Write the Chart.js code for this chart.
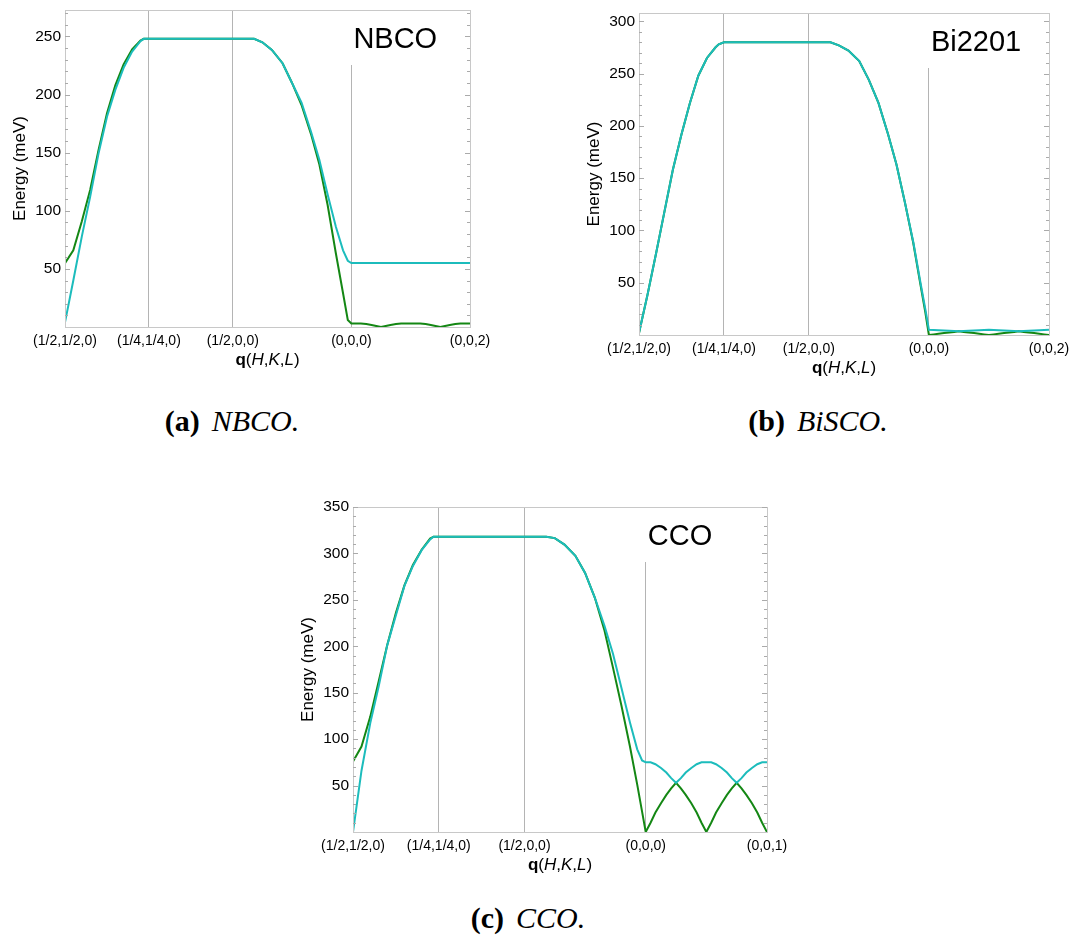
<!DOCTYPE html>
<html>
<head>
<meta charset="utf-8">
<script src="https://cdn.jsdelivr.net/npm/chart.js@4.4.1/dist/chart.umd.min.js"></script>
<style>
  body { margin: 0; background: #fff; }
  #page { position: relative; width: 1075px; height: 944px; overflow: hidden; }
  .panel { position: absolute; }
  .cap { position: absolute; width: 300px; text-align: center; font-family: "Liberation Serif", "Times New Roman", serif; font-size: 30px; line-height: 1; color: #000; white-space: nowrap; }
  .cap b { font-weight: bold; margin-right: 12px; }
</style>
</head>
<body>
<div id="page">
  <canvas id="nbco" class="panel" width="500" height="372" style="left:0px;top:0px"></canvas>
  <canvas id="bi2201" class="panel" width="499" height="380" style="left:574px;top:0px"></canvas>
  <canvas id="cco" class="panel" width="509" height="380" style="left:288px;top:497px"></canvas>
  <div class="cap" style="left:82px;top:406px"><b>(a)</b><i>NBCO.</i></div>
  <div class="cap" style="left:668px;top:406px"><b>(b)</b><i>BiSCO.</i></div>
  <div class="cap" style="left:378px;top:903px"><b>(c)</b><i>CCO.</i></div>
</div>
<script>
// path through the zone: (1/2,1/2,0) -> (1/4,1/4,0) -> (1/2,0,0) -> (0,0,0) -> (0,0,L)
const qTicks = [0, 0.3536, 0.7071, 1.2071, 1.7071];
const qLabelsL2 = ['(1/2,1/2,0)', '(1/4,1/4,0)', '(1/2,0,0)', '(0,0,0)', '(0,0,2)'];
const qLabelsL1 = ['(1/2,1/2,0)', '(1/4,1/4,0)', '(1/2,0,0)', '(0,0,0)', '(0,0,1)'];

const qPath = [
  0, 0.035, 0.071, 0.106, 0.141, 0.177, 0.212, 0.247, 0.283, 0.318, 0.332, 0.354,
  0.530,
  0.707, 0.797, 0.832, 0.872, 0.917, 0.957, 0.997, 1.037, 1.072, 1.107, 1.142, 1.172, 1.192, 1.207,
  1.227, 1.247, 1.270, 1.292, 1.312, 1.332, 1.352, 1.372, 1.395, 1.417, 1.437, 1.457,
  1.477, 1.497, 1.520, 1.542, 1.562, 1.582, 1.602, 1.622, 1.645, 1.667, 1.687, 1.707
];

// energies in meV, upper (cyan) and lower (green) branch
const nbcoUpper = [
  4, 40, 78, 112, 149, 181, 204, 223, 237, 246, 248, 248,
  248,
  248, 248, 245, 238.5, 227, 210, 193, 168, 144, 114, 86, 66, 57, 55,
  55, 55, 55, 55, 55, 55, 55, 55, 55, 55, 55, 55,
  55, 55, 55, 55, 55, 55, 55, 55, 55, 55, 55, 55
];
const nbcoLower = [
  55, 66, 91, 118, 152, 184, 208, 226, 239, 246.5, 248, 248,
  248,
  248, 248, 245, 238.5, 227, 210, 191, 166, 140, 105, 63, 29, 6, 3,
  3, 3, 2.5, 1.8, 0.9, 0, 0.9, 1.8, 2.5, 3, 3, 3,
  3, 3, 2.5, 1.8, 0.9, 0, 0.9, 1.8, 2.5, 3, 3, 3
];
const bi2201Upper = [
  2, 38, 78, 118, 158, 192, 222, 248, 265, 275, 278, 280,
  280,
  280, 280, 277, 272, 262, 244, 222, 192, 163, 127, 89, 50, 25, 5,
  4.8, 4.6, 4.3, 4.0, 3.8, 3.5, 3.8, 4.0, 4.3, 4.6, 4.8, 5,
  4.8, 4.6, 4.3, 4.0, 3.8, 3.5, 3.8, 4.0, 4.3, 4.6, 4.8, 5
];
const bi2201Lower = [
  2, 38, 78, 118, 158, 192, 222, 248, 265, 275, 278, 280,
  280,
  280, 280, 277, 272, 262, 244, 222, 192, 163, 127, 88, 48, 22, 0,
  0.6, 1.2, 1.8, 2.4, 2.9, 3.5, 2.9, 2.4, 1.8, 1.2, 0.6, 0,
  0.6, 1.2, 1.8, 2.4, 2.9, 3.5, 2.9, 2.4, 1.8, 1.2, 0.6, 0
];
const ccoUpper = [
  0, 66, 117, 157, 201, 233.5, 265, 286.5, 303.5, 315, 318, 318,
  318,
  318, 318, 316.5, 309.5, 297.5, 279, 252.5, 222, 192, 155, 118, 89, 77, 75,
  75, 73, 69, 64, 58, 53, 58, 64, 69, 73, 75, 75,
  75, 73, 69, 64, 58, 53, 58, 64, 69, 73, 75, 75
];
const ccoLower = [
  76, 92, 124, 162.5, 201, 236, 265.5, 287.5, 304, 316, 318, 318,
  318,
  318, 318, 316.5, 309.5, 297.5, 279, 252.5, 217, 177, 136, 92, 51, 22, 0,
  10, 21, 31, 40, 47, 53, 47, 40, 31, 21, 10, 0,
  10, 21, 31, 40, 47, 53, 47, 40, 31, 21, 10, 0
];

const cyan = '#1cbcbc';
const green = '#148714';
const sans = '"Liberation Sans", Arial, sans-serif';

Chart.defaults.font.family = sans;
Chart.defaults.color = '#000';

// frame, inward ticks, sample name box and the q(H,K,L) title
const framePlugin = {
  id: 'frame',
  afterDraw(chart, args, opts) {
    const ctx = chart.ctx;
    const a = chart.chartArea;
    const x = chart.scales.x, y = chart.scales.y;
    ctx.save();
    ctx.strokeStyle = '#c8c8c8';
    ctx.lineWidth = 1;
    ctx.strokeRect(Math.round(a.left) + 0.5, Math.round(a.top) + 0.5,
      Math.round(a.right - a.left), Math.round(a.bottom - a.top));

    ctx.strokeStyle = '#aaaaaa';
    ctx.beginPath();
    y.ticks.forEach(t => {
      if (t.value <= 0) return;
      const py = Math.round(y.getPixelForValue(t.value)) + 0.5;
      const len = t.value % 50 === 0 ? 5 : 3;
      ctx.moveTo(a.left, py); ctx.lineTo(a.left + len, py);
      ctx.moveTo(a.right, py); ctx.lineTo(a.right - len, py);
    });
    ctx.stroke();

    // name of the compound, on a white box over the (0,0,0) line
    const lx = x.getPixelForValue(qTicks[3]);
    ctx.font = '29px ' + sans;
    const tw = ctx.measureText(opts.name).width;
    ctx.fillStyle = '#fff';
    ctx.fillRect(lx - 5, a.top + 1, tw + 12, 54);
    ctx.fillStyle = '#000';
    ctx.textBaseline = 'alphabetic';
    ctx.fillText(opts.name, lx + 2, a.top + 38);

    // axis title q(H,K,L) with mixed styles
    const parts = [['q', 'bold '], ['(', ''], ['H', 'italic '], [',', ''],
      ['K', 'italic '], [',', ''], ['L', 'italic '], [')', '']];
    let total = 0;
    parts.forEach(p => { ctx.font = p[1] + '17px ' + sans; total += ctx.measureText(p[0]).width; });
    let cx = (a.left + a.right) / 2 - total / 2;
    const by = a.bottom + 38;
    parts.forEach(p => {
      ctx.font = p[1] + '17px ' + sans;
      ctx.fillText(p[0], cx, by);
      cx += ctx.measureText(p[0]).width;
    });
    ctx.restore();
  }
};

function makeChart(id, upper, lower, yMax, name, labels, padTop, padRight) {
  const toPoints = arr => arr.map((e, i) => ({ x: qPath[i], y: e }));
  return new Chart(document.getElementById(id), {
    type: 'line',
    data: {
      datasets: [
        { label: 'upper', data: toPoints(upper), borderColor: cyan, borderWidth: 2, pointRadius: 0, tension: 0 },
        { label: 'lower', data: toPoints(lower), borderColor: green, borderWidth: 2, pointRadius: 0, tension: 0 }
      ]
    },
    options: {
      responsive: false,
      animation: false,
      layout: { padding: { left: 0, top: padTop, right: padRight, bottom: 0 } },
      plugins: { legend: { display: false }, tooltip: { enabled: false }, frame: { name: name } },
      scales: {
        x: {
          type: 'linear',
          min: 0,
          max: qTicks[qTicks.length - 1],
          afterBuildTicks: axis => { axis.ticks = qTicks.map(v => ({ value: v })); },
          afterFit: s => { s.height = 45; s.paddingLeft = 0; s.paddingRight = 0; },
          ticks: {
            autoSkip: false, maxRotation: 0, padding: 6,
            font: { size: 14 },
            callback: (v, i) => labels[i]
          },
          grid: {
            drawTicks: false,
            color: c => (c.index > 0 && c.index < qTicks.length - 1) ? '#b4b4b4' : 'rgba(0,0,0,0)'
          },
          border: { display: false }
        },
        y: {
          min: 0,
          max: yMax,
          // a tick every 10 meV, labelled every 50
          afterBuildTicks: axis => {
            const t = [];
            for (let v = 0; v <= axis.max; v += 10) t.push({ value: v });
            axis.ticks = t;
          },
          afterFit: s => { s.width = 65; s.paddingTop = 0; s.paddingBottom = 0; },
          ticks: {
            autoSkip: false, padding: 4,
            font: { size: 15.5 },
            callback: v => (v > 0 && v % 50 === 0) ? String(v) : ''
          },
          grid: { display: false, drawTicks: false },
          border: { display: false },
          title: { display: true, text: 'Energy (meV)', font: { size: 17 }, padding: { top: 10, bottom: 0 } }
        }
      }
    },
    plugins: [framePlugin]
  });
}

makeChart('nbco', nbcoUpper, nbcoLower, 272.8, 'NBCO', qLabelsL2, 10, 30);
makeChart('bi2201', bi2201Upper, bi2201Lower, 308, 'Bi2201', qLabelsL2, 13, 24);
makeChart('cco', ccoUpper, ccoLower, 350, 'CCO', qLabelsL1, 10, 30);
</script>
</body>
</html>
